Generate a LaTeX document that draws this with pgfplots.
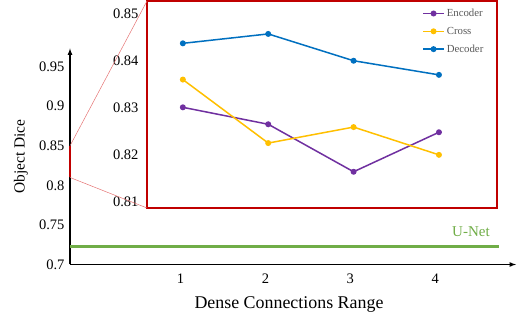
\documentclass[border=0pt]{standalone}
\usepackage{pgfplots}
\pgfplotsset{compat=1.18}
\usepackage{fontspec}
\setmainfont{Liberation Serif}
\definecolor{enc}{HTML}{7030A0}
\definecolor{crs}{HTML}{FFC000}
\definecolor{dec}{HTML}{0070C0}
\definecolor{unet}{HTML}{70AD47}
\definecolor{boxred}{HTML}{C00000}
\definecolor{linkred}{HTML}{E57373}
\definecolor{legtext}{HTML}{595959}
\begin{document}
\begin{tikzpicture}
\useasboundingbox (0,0) rectangle (521pt,320pt);
\begin{axis}[
  name=main,
  at={(70pt,55.5pt)}, anchor=south west,
  scale only axis, width=446pt, height=216pt,
  axis lines=left,
  axis line style={black, line width=1.2pt, -latex},
  xmin=-0.3, xmax=4.95, ymin=0.7, ymax=0.973,
  xtick={1,2,3,4},
  ytick={0.7,0.75,0.8,0.85,0.9,0.95},
  yticklabels={0.7,0.75,0.8,0.85,0.9,0.95},
  major tick length=0pt,
  /pgf/number format/assume math mode=true,
  tick label style={font=\fontsize{14.5}{17}\selectfont},
  xticklabel style={yshift=-6pt},
  yticklabel style={xshift=-2pt},
  xlabel={Dense Connections Range},
  ylabel={Object Dice},
  xlabel style={font=\fontsize{17.9}{21}\selectfont, at={(axis description cs:0.491,-0.1875)}, anchor=center},
  ylabel style={font=\fontsize{15.4}{18}\selectfont, at={(axis description cs:-0.110,0.5)}, anchor=center},
  clip=false,
]
\addplot[unet, line width=2.5pt] coordinates {(-0.3,0.723) (4.75,0.723)};
\addplot[boxred, line width=1.8pt] coordinates {(-0.3,0.81) (-0.3,0.85)};
\node[text=unet, font=\fontsize{15}{18}\selectfont] at (axis cs:4.42,0.741) {U-Net};
\coordinate (zt) at (axis cs:-0.3,0.85);
\coordinate (zb) at (axis cs:-0.3,0.81);
\end{axis}
\begin{axis}[
  name=inset,
  at={(147pt,112pt)}, anchor=south west,
  scale only axis, width=350pt, height=207pt,
  axis line style={boxred, line width=1.1pt},
  axis background/.style={fill=white},
  xmin=0.58, xmax=4.68, ymin=0.8087, ymax=0.8527,
  xtick=\empty,
  ytick={0.81,0.82,0.83,0.84,0.85},
  yticklabels={0.81,0.82,0.83,0.84,0.85},
  major tick length=0pt,
  /pgf/number format/assume math mode=true,
  tick label style={font=\fontsize{14.5}{17}\selectfont},
  yticklabel style={xshift=-5pt},
  legend style={at={(0.786,0.972)}, anchor=north west, draw=none, fill=none,
    font=\fontsize{10.8}{12}\selectfont, text=legtext, row sep=5pt,
    inner sep=0pt, cells={anchor=west}},
  legend image code/.code={\draw[#1, mark repeat=2, mark phase=2] plot coordinates {(0pt,0pt) (10.5pt,0pt) (21pt,0pt)};},
  every axis plot/.append style={line width=1.5pt, mark=*, mark size=2.2pt},
]
\addplot[enc, mark options={fill=enc}] coordinates {(1,0.8301) (2,0.8265) (3,0.8164) (4,0.8248)};
\addlegendentry{Encoder}
\addplot[crs, mark options={fill=crs}] coordinates {(1,0.8360) (2,0.8225) (3,0.8259) (4,0.8200)};
\addlegendentry{Cross}
\addplot[dec, mark options={fill=dec}] coordinates {(1,0.8437) (2,0.8457) (3,0.8400) (4,0.8370)};
\addlegendentry{Decoder}
\coordinate (it) at (rel axis cs:0,1);
\coordinate (ib) at (rel axis cs:0,0);
\end{axis}
\draw[linkred, line width=0.5pt] (zt) -- (it);
\draw[linkred, line width=0.5pt] (zb) -- (ib);
\end{tikzpicture}
\end{document}
